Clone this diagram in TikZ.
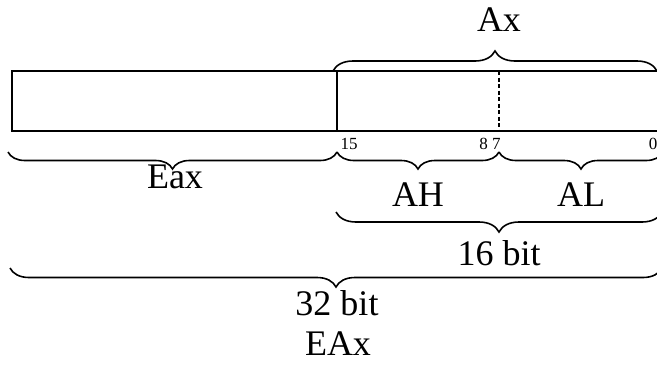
\documentclass[tikz,border=0pt]{standalone}
\usepackage{fontspec}
\setmainfont{Liberation Serif}
\usepackage{tikz}
\usetikzlibrary{decorations.pathreplacing}
\usepackage[x11names]{xcolor}

\tikzset{
    regline/.style={line width=2pt},
    regbrace/.style={line width=1.6pt, decorate, decoration={brace, amplitude=#1}},
    regbrace/.default=20pt,
    biglabel/.style={font=\fontsize{36}{36}\selectfont, inner sep=0pt},
    bitnum/.style={font=\fontsize{17}{17}\selectfont, inner sep=0pt}
}

\begin{document}
\begin{tikzpicture}[x=1pt, y=-1pt]
    \useasboundingbox (0,0) rectangle (657,365);
    \clip (0,0) rectangle (657,365);
    % Corners of the register and the split points
    \coordinate (reg-nw) at (12,71);
    \coordinate (reg-se) at (662,131);
    \coordinate (b15-top) at (337,71);
    \coordinate (b15-bot) at (337,131);
    \coordinate (b8-top) at (499,71);
    \coordinate (b8-bot) at (499,131);

    % Draw the register box
    \draw[regline] (reg-nw) rectangle (reg-se);
    \draw[regline] (b15-top) -- (b15-bot);
    \draw[line width=1.6pt, dash pattern=on 4pt off 2.5pt] (b8-top) -- (b8-bot);

    % Bit numbers below the box
    \node[bitnum] (n15) at (349,144) {15};
    \node[bitnum] (n87) at (490,144) {8 7};
    \node[bitnum] (n0) at (653,144) {0};

    % Brace above the low half
    \draw[regbrace] (333,71) -- (657,71);
    \node[biglabel] (ax) at (499,20) {Ax};

    % Braces below the box
    \draw[regbrace=17pt, decoration={mirror}] (8,152) -- (337,152);
    \draw[regbrace=17pt, decoration={mirror}] (337,152) -- (499,152);
    \draw[regbrace=17pt, decoration={mirror}] (499,152) -- (663,152);
    \node[biglabel] (eax) at (175,177) {Eax};
    \node[biglabel] (ah) at (418,195) {AH};
    \node[biglabel] (al) at (581,195) {AL};

    % Widths of the halves
    \draw[regbrace, decoration={mirror}] (336,212) -- (662,212);
    \node[biglabel] (bit16) at (499,253) {16 bit};
    \draw[regbrace=19pt, decoration={mirror}] (10,268) -- (662,268);
    \node[biglabel] (bit32) at (337,303) {32 bit};
    \node[biglabel] (eax-full) at (338,344) {EAx};
\end{tikzpicture}
\end{document}
